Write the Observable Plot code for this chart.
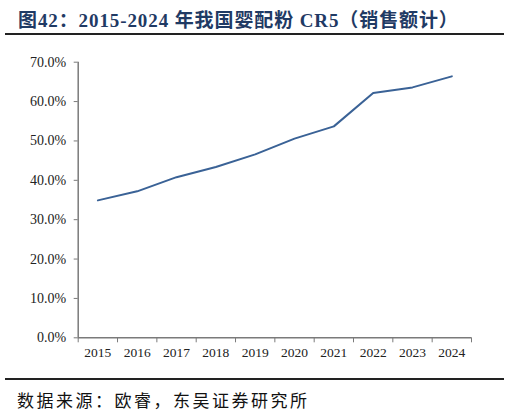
<!DOCTYPE html>
<html>
<head>
<meta charset="utf-8">
<script src="https://cdn.jsdelivr.net/npm/d3@7"></script>
<script src="https://cdn.jsdelivr.net/npm/@observablehq/plot@0.6"></script>
<style>
  body { margin: 0; background: #fff; width: 510px; height: 413px; position: relative; overflow: hidden; }
  #title { position: absolute; left: 18px; top: 5px; font: bold 19px "Liberation Serif", "Noto Sans CJK SC", serif; letter-spacing: 0.9px; color: #1f3a64; white-space: nowrap; }
  .rule { position: absolute; left: 5px; width: 499px; height: 2px; background: #222; }
  #chart { position: absolute; left: 0; top: 40px; }
  #source { position: absolute; left: 17px; top: 387px; font: 17px "Liberation Serif", "Noto Sans CJK SC", serif; letter-spacing: 2.5px; color: #111; white-space: nowrap; }
</style>
</head>
<body>
<div id="title">图42：2015-2024 年我国婴配粉 CR5（销售额计）</div>
<div class="rule" style="top:33px"></div>
<div id="chart"></div>
<div class="rule" style="top:378px"></div>
<div id="source">数据来源：欧睿，东吴证券研究所</div>
<script>
// 年份与 CR5（销售额计）
const years = [2015, 2016, 2017, 2018, 2019, 2020, 2021, 2022, 2023, 2024]
const cr5 = [0.349, 0.372, 0.408, 0.434, 0.466, 0.506, 0.537, 0.622, 0.636, 0.664]
const yTicks = [0, 0.1, 0.2, 0.3, 0.4, 0.5, 0.6, 0.7]

const data = years.map((y, i) => ({year: y, value: cr5[i]}))
const bounds = years.map(y => y - 0.5).concat([years[years.length - 1] + 0.5])

const axisColor = '#7a7a7a'

let chart = Plot.plot({
  width: 510,
  height: 330,
  marginTop: 21.7,
  marginBottom: 32.7,
  marginLeft: 77.7,
  marginRight: 39,
  x: { domain: [bounds[0], bounds[bounds.length - 1]], label: null },
  y: { domain: [0, 0.7], label: null },
  style: { fontFamily: '"Liberation Serif", serif', fontSize: '13px', color: '#222' },
  marks: [
    // 刻度（类目边界）
    Plot.axisX(bounds, { tickSize: 5, tickFormat: () => '', stroke: axisColor, strokeWidth: 1, label: null }),
    // 年份标签
    Plot.axisX(years, { tickSize: 0, tickPadding: 10, tickFormat: d => String(d), fontSize: 13.5, fill: '#222', label: null }),
    Plot.axisY(yTicks, { tickSize: 4, tickFormat: d3.format('.1%'), stroke: axisColor, fontSize: 14, fill: '#222', tickPadding: 8, label: null }),
    Plot.ruleX([bounds[0]], { stroke: axisColor, strokeWidth: 1.5 }),
    Plot.ruleY([0], { stroke: axisColor, strokeWidth: 1.5 }),
    Plot.line(data, { x: 'year', y: 'value', stroke: '#3a6296', strokeWidth: 2 })
  ]
})

d3.select('#chart').append(() => chart)
</script>
</body>
</html>
